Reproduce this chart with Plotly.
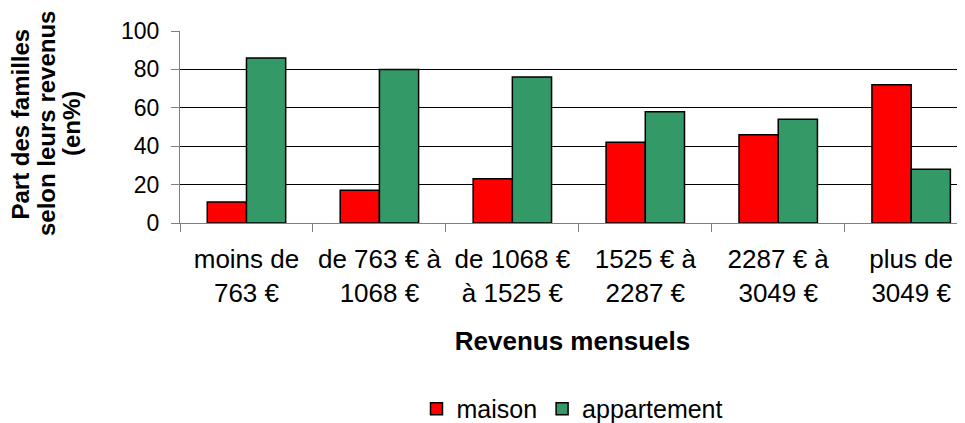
import plotly.graph_objects as go

categories = ["moins de<br>763 €", "de 763 € à<br>1068 €", "de 1068 €<br>à 1525 €",
              "1525 € à<br>2287 €", "2287 € à<br>3049 €", "plus de<br>3049 €"]
maison = [11, 17, 23, 42, 46, 72]
appartement = [86, 80, 76, 58, 54, 28]
y_ticks = [0, 20, 40, 60, 80, 100]
y_title_lines = ["Part des familles", "selon leurs revenus", "(en%)"]

FONT = "Liberation Sans, Arial, sans-serif"

fig = go.Figure()
fig.add_trace(go.Bar(x=categories, y=maison, name="maison",
                     marker=dict(color="#FF0000", line=dict(color="black", width=1.5))))
fig.add_trace(go.Bar(x=categories, y=appartement, name="appartement",
                     marker=dict(color="#339966", line=dict(color="black", width=1.5))))

# page body has an 8px margin: figure is shrunk and shifted accordingly
fig.update_layout(
    width=957, height=415,
    margin=dict(l=172, r=0, t=23, b=200),
    paper_bgcolor="white", plot_bgcolor="white",
    barmode="group", bargap=0.41, bargroupgap=0,
    font=dict(family=FONT, color="black"),
    showlegend=True,
    legend=dict(orientation="h", xref="paper", x=0.50, xanchor="center",
                yref="container", y=0.034, yanchor="middle",
                font=dict(size=25, family=FONT, color="black"), itemwidth=30,
                traceorder="normal"),
)

# y-axis title, one line per annotation for tight line spacing
for xpos, line in zip([-0.2044, -0.1707, -0.1388], y_title_lines):
    fig.add_annotation(text="<b>" + line + "</b>", xref="paper", yref="paper",
                       x=xpos, y=0.5156, xanchor="center", yanchor="middle",
                       textangle=-90, showarrow=False,
                       font=dict(size=24, family=FONT, color="black"))

fig.update_xaxes(
    range=[-0.5, 5.405], tickson="boundaries", ticks="outside", ticklen=8,
    tickcolor="#808080", tickwidth=1, showline=True, linecolor="#808080", linewidth=1,
    tickfont=dict(size=26, family=FONT, color="black"), ticklabelstandoff=13,
    title=dict(text="<b>Revenus mensuels</b>", font=dict(size=26, family=FONT, color="black"),
               standoff=24),
    showgrid=False,
)
fig.update_yaxes(
    range=[0, 100], tickvals=y_ticks, ticks="outside", ticklen=8, tickcolor="#808080",
    showline=True, linecolor="#808080", linewidth=1,
    showgrid=True, gridcolor="black", gridwidth=1, zeroline=False,
    tickfont=dict(size=23, family=FONT, color="black"), ticklabelstandoff=7,
)

fig.write_html("out.html")
